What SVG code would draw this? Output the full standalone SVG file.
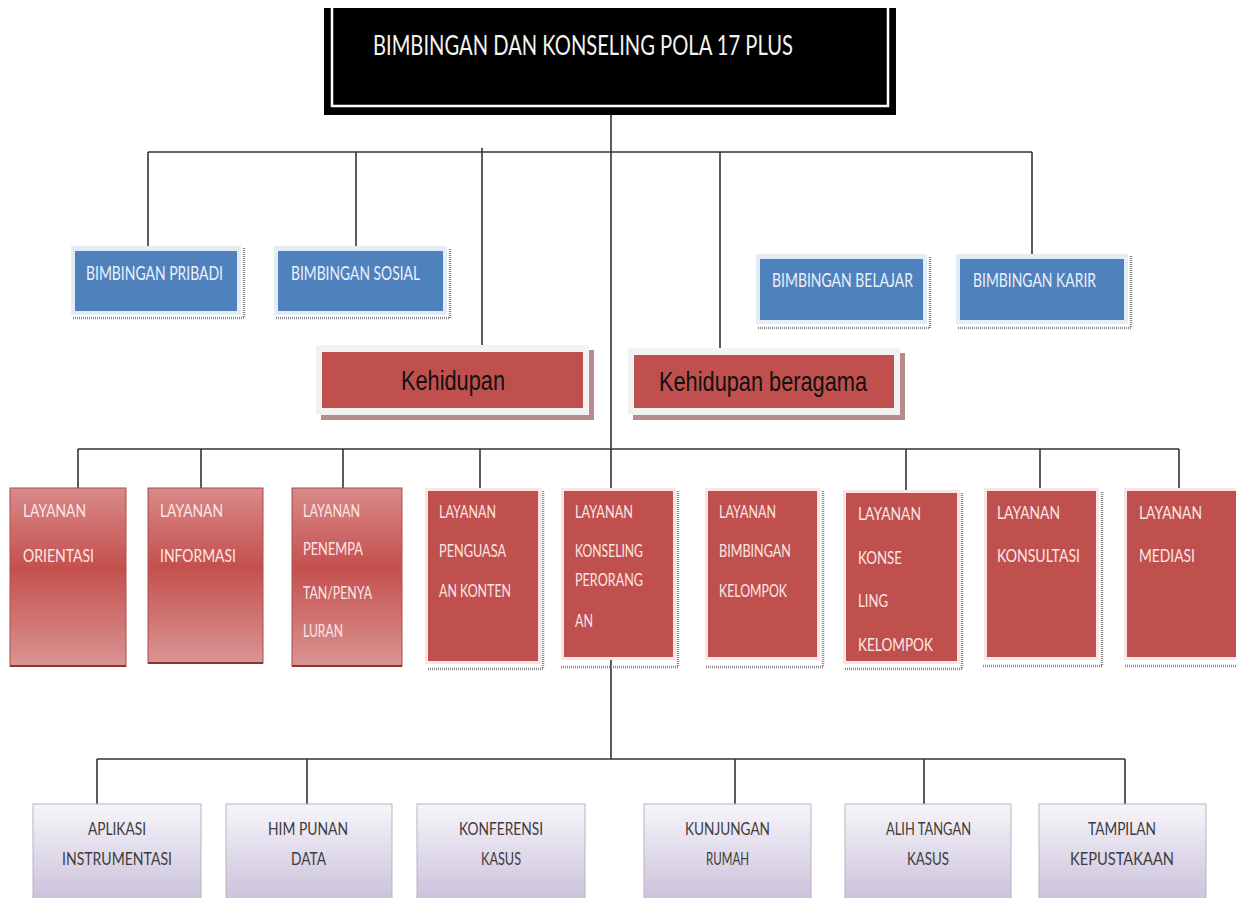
<svg xmlns="http://www.w3.org/2000/svg" width="1236" height="898" viewBox="0 0 1236 898">
<defs>
<linearGradient id="gRed" x1="0" y1="0" x2="0" y2="1">
<stop offset="0" stop-color="#D98A8A"/>
<stop offset="0.45" stop-color="#C4504E"/>
<stop offset="1" stop-color="#D99593"/>
</linearGradient>
<linearGradient id="gLav" x1="0" y1="0" x2="0" y2="1">
<stop offset="0" stop-color="#F7F5FA"/>
<stop offset="1" stop-color="#C9C0DA"/>
</linearGradient>
<style>
.conn{stroke:#333;stroke-width:1.6;fill:none}
.cal{font-family:Lato,"Liberation Sans",Arial,sans-serif}
.ari{font-family:"Liberation Sans",Arial,sans-serif}
.ttl{font-size:26px;fill:#F4F4EE}
.lay{font-size:18px;fill:#FCE6E6}
.blu{font-size:20px;fill:#EAF1FA}
.bot{font-size:18px;fill:#3c3c3c}
.keh{font-size:28px;fill:#111}
.dot{stroke:#8a8a8a;stroke-width:2.5;stroke-dasharray:1 1;fill:none}
.bluebox{fill:#4F81BD}
.bframe{fill:#E4ECF6}
.red{fill:#C0504D}
.rframe{fill:#FBE4E4}
.grad{fill:url(#gRed);stroke:#B04A48;stroke-width:1}
.lav{fill:url(#gLav);stroke:#B5B5BD;stroke-width:1}
</style>
</defs>
<rect width="1236" height="898" fill="#FFFFFF"/>

<g id="connectors">
<path class="conn" d="M611 115 V488"/>
<path class="conn" d="M148 152 H1032"/>
<path class="conn" d="M148 152 V246"/>
<path class="conn" d="M356 152 V246"/>
<path class="conn" d="M482 148 V345"/>
<path class="conn" d="M720 152 V348"/>
<path class="conn" d="M1032 152 V254"/>
<path class="conn" d="M78 449 H1179"/>
<path class="conn" d="M78 449 V488"/>
<path class="conn" d="M201 449 V488"/>
<path class="conn" d="M343 449 V488"/>
<path class="conn" d="M480 449 V488"/>
<path class="conn" d="M906 449 V490"/>
<path class="conn" d="M1040 449 V488"/>
<path class="conn" d="M1179 449 V488"/>
<path class="conn" d="M611 657 V759"/>
<path class="conn" d="M97 759 H1125"/>
<path class="conn" d="M97 759 V804"/>
<path class="conn" d="M307 759 V804"/>
<path class="conn" d="M735 759 V804"/>
<path class="conn" d="M924 759 V804"/>
<path class="conn" d="M1125 759 V804"/>
</g>

<g id="title">
<rect x="324" y="8" width="572" height="107" fill="#000"/>
<path d="M332 8 V106 H888 V8" fill="none" stroke="#FFF" stroke-width="2.5"/>
<text class="cal ttl" x="373" y="55" textLength="420" lengthAdjust="spacingAndGlyphs">BIMBINGAN DAN KONSELING POLA 17 PLUS</text>
</g>

<g id="bimbingan-pribadi">
<rect class="bframe" x="71" y="246" width="170" height="69"/>
<rect class="bluebox" x="75" y="251" width="162" height="60"/>
<path class="dot" d="M73 318 H244 V248"/>
<text class="cal blu" x="86" y="280" textLength="137" lengthAdjust="spacingAndGlyphs">BIMBINGAN PRIBADI</text>
</g>
<g id="bimbingan-sosial">
<rect class="bframe" x="274" y="246" width="173" height="69"/>
<rect class="bluebox" x="278" y="251" width="165" height="60"/>
<path class="dot" d="M276 318 H450 V248"/>
<text class="cal blu" x="291" y="280" textLength="129" lengthAdjust="spacingAndGlyphs">BIMBINGAN SOSIAL</text>
</g>
<g id="bimbingan-belajar">
<rect class="bframe" x="756" y="254" width="171" height="70"/>
<rect class="bluebox" x="760" y="259" width="163" height="61"/>
<path class="dot" d="M758 328 H930 V256"/>
<text class="cal blu" x="772" y="287" textLength="141" lengthAdjust="spacingAndGlyphs">BIMBINGAN BELAJAR</text>
</g>
<g id="bimbingan-karir">
<rect class="bframe" x="956" y="254" width="172" height="70"/>
<rect class="bluebox" x="960" y="259" width="164" height="61"/>
<path class="dot" d="M958 328 H1131 V256"/>
<text class="cal blu" x="973" y="287" textLength="123" lengthAdjust="spacingAndGlyphs">BIMBINGAN KARIR</text>
</g>

<g id="kehidupan">
<rect x="321" y="350" width="273" height="70" fill="#B98A8C"/>
<rect x="316" y="345" width="273" height="70" fill="#F2F2F2"/>
<rect class="red" x="322" y="352" width="261" height="56"/>
<text class="ari keh" x="401" y="390" textLength="104" lengthAdjust="spacingAndGlyphs">Kehidupan</text>
</g>
<g id="kehidupan-beragama">
<rect x="633" y="353" width="272" height="67" fill="#B98A8C"/>
<rect x="628" y="348" width="272" height="67" fill="#F2F2F2"/>
<rect class="red" x="634" y="355" width="260" height="53"/>
<text class="ari keh" x="659" y="391" textLength="208" lengthAdjust="spacingAndGlyphs">Kehidupan beragama</text>
</g>

<g id="layanan-orientasi">
<rect class="grad" x="10" y="488" width="116" height="178"/>
<path d="M10 666 H126" stroke="#8B3432" stroke-width="2"/>
<text class="cal lay" x="23" y="517" textLength="63" lengthAdjust="spacingAndGlyphs">LAYANAN</text>
<text class="cal lay" x="23" y="562" textLength="71" lengthAdjust="spacingAndGlyphs">ORIENTASI</text>
</g>
<g id="layanan-informasi">
<rect class="grad" x="148" y="488" width="115" height="175"/>
<path d="M148 663 H263" stroke="#8B3432" stroke-width="2"/>
<text class="cal lay" x="160" y="517" textLength="63" lengthAdjust="spacingAndGlyphs">LAYANAN</text>
<text class="cal lay" x="160" y="562" textLength="76" lengthAdjust="spacingAndGlyphs">INFORMASI</text>
</g>
<g id="layanan-penempatan">
<rect class="grad" x="292" y="488" width="110" height="178"/>
<path d="M292 666 H402" stroke="#8B3432" stroke-width="2"/>
<text class="cal lay" x="303" y="517" textLength="57" lengthAdjust="spacingAndGlyphs">LAYANAN</text>
<text class="cal lay" x="303" y="555" textLength="60" lengthAdjust="spacingAndGlyphs">PENEMPA</text>
<text class="cal lay" x="303" y="599" textLength="69" lengthAdjust="spacingAndGlyphs">TAN/PENYA</text>
<text class="cal lay" x="303" y="637" textLength="40" lengthAdjust="spacingAndGlyphs">LURAN</text>
</g>
<g id="layanan-penguasaan-konten">
<rect class="rframe" x="425" y="488" width="116" height="176"/>
<rect class="red" x="428" y="491" width="110" height="170"/>
<path class="dot" d="M428 669 H543 V491"/>
<text class="cal lay" x="439" y="518" textLength="57" lengthAdjust="spacingAndGlyphs">LAYANAN</text>
<text class="cal lay" x="439" y="557" textLength="67" lengthAdjust="spacingAndGlyphs">PENGUASA</text>
<text class="cal lay" x="439" y="597" textLength="72" lengthAdjust="spacingAndGlyphs">AN KONTEN</text>
</g>
<g id="layanan-konseling-perorangan">
<rect class="rframe" x="561" y="488" width="115" height="172"/>
<rect class="red" x="564" y="491" width="109" height="166"/>
<path class="dot" d="M561 667 H678 V491"/>
<text class="cal lay" x="575" y="518" textLength="58" lengthAdjust="spacingAndGlyphs">LAYANAN</text>
<text class="cal lay" x="575" y="557" textLength="68" lengthAdjust="spacingAndGlyphs">KONSELING</text>
<text class="cal lay" x="575" y="586" textLength="68" lengthAdjust="spacingAndGlyphs">PERORANG</text>
<text class="cal lay" x="575" y="627" textLength="18" lengthAdjust="spacingAndGlyphs">AN</text>
</g>
<g id="layanan-bimbingan-kelompok">
<rect class="rframe" x="705" y="488" width="115" height="172"/>
<rect class="red" x="708" y="491" width="109" height="166"/>
<path class="dot" d="M706 667 H823 V491"/>
<text class="cal lay" x="719" y="518" textLength="57" lengthAdjust="spacingAndGlyphs">LAYANAN</text>
<text class="cal lay" x="719" y="557" textLength="72" lengthAdjust="spacingAndGlyphs">BIMBINGAN</text>
<text class="cal lay" x="719" y="597" textLength="68" lengthAdjust="spacingAndGlyphs">KELOMPOK</text>
</g>
<g id="layanan-konseling-kelompok">
<rect class="rframe" x="843" y="490" width="117" height="174"/>
<rect class="red" x="846" y="493" width="111" height="168"/>
<path class="dot" d="M845 669 H962 V493"/>
<text class="cal lay" x="858" y="520" textLength="63" lengthAdjust="spacingAndGlyphs">LAYANAN</text>
<text class="cal lay" x="858" y="564" textLength="44" lengthAdjust="spacingAndGlyphs">KONSE</text>
<text class="cal lay" x="858" y="607" textLength="30" lengthAdjust="spacingAndGlyphs">LING</text>
<text class="cal lay" x="858" y="651" textLength="75" lengthAdjust="spacingAndGlyphs">KELOMPOK</text>
</g>
<g id="layanan-konsultasi">
<rect class="rframe" x="984" y="488" width="115" height="172"/>
<rect class="red" x="987" y="491" width="109" height="166"/>
<path class="dot" d="M983 666 H1102 V491"/>
<text class="cal lay" x="997" y="519" textLength="63" lengthAdjust="spacingAndGlyphs">LAYANAN</text>
<text class="cal lay" x="997" y="562" textLength="83" lengthAdjust="spacingAndGlyphs">KONSULTASI</text>
</g>
<g id="layanan-mediasi">
<rect class="rframe" x="1124" y="488" width="112" height="172"/>
<rect class="red" x="1127" y="491" width="109" height="166"/>
<path class="dot" d="M1125 666 H1236"/>
<text class="cal lay" x="1139" y="519" textLength="63" lengthAdjust="spacingAndGlyphs">LAYANAN</text>
<text class="cal lay" x="1139" y="562" textLength="56" lengthAdjust="spacingAndGlyphs">MEDIASI</text>
</g>

<g id="aplikasi-instrumentasi">
<rect class="lav" x="33" y="804" width="168" height="100"/>
<text class="cal bot" x="88" y="835" textLength="58" lengthAdjust="spacingAndGlyphs">APLIKASI</text>
<text class="cal bot" x="62" y="865" textLength="110" lengthAdjust="spacingAndGlyphs">INSTRUMENTASI</text>
</g>
<g id="himpunan-data">
<rect class="lav" x="226" y="804" width="166" height="100"/>
<text class="cal bot" x="268" y="835" textLength="80" lengthAdjust="spacingAndGlyphs">HIM PUNAN</text>
<text class="cal bot" x="291" y="865" textLength="35" lengthAdjust="spacingAndGlyphs">DATA</text>
</g>
<g id="konferensi-kasus">
<rect class="lav" x="417" y="804" width="168" height="100"/>
<text class="cal bot" x="459" y="835" textLength="84" lengthAdjust="spacingAndGlyphs">KONFERENSI</text>
<text class="cal bot" x="481" y="865" textLength="40" lengthAdjust="spacingAndGlyphs">KASUS</text>
</g>
<g id="kunjungan-rumah">
<rect class="lav" x="644" y="804" width="167" height="100"/>
<text class="cal bot" x="685" y="835" textLength="85" lengthAdjust="spacingAndGlyphs">KUNJUNGAN</text>
<text class="cal bot" x="706" y="865" textLength="43" lengthAdjust="spacingAndGlyphs">RUMAH</text>
</g>
<g id="alih-tangan-kasus">
<rect class="lav" x="845" y="804" width="166" height="100"/>
<text class="cal bot" x="886" y="835" textLength="85" lengthAdjust="spacingAndGlyphs">ALIH TANGAN</text>
<text class="cal bot" x="907" y="865" textLength="42" lengthAdjust="spacingAndGlyphs">KASUS</text>
</g>
<g id="tampilan-kepustakaan">
<rect class="lav" x="1039" y="804" width="167" height="100"/>
<text class="cal bot" x="1088" y="835" textLength="68" lengthAdjust="spacingAndGlyphs">TAMPILAN</text>
<text class="cal bot" x="1070" y="865" textLength="104" lengthAdjust="spacingAndGlyphs">KEPUSTAKAAN</text>
</g>
</svg>
